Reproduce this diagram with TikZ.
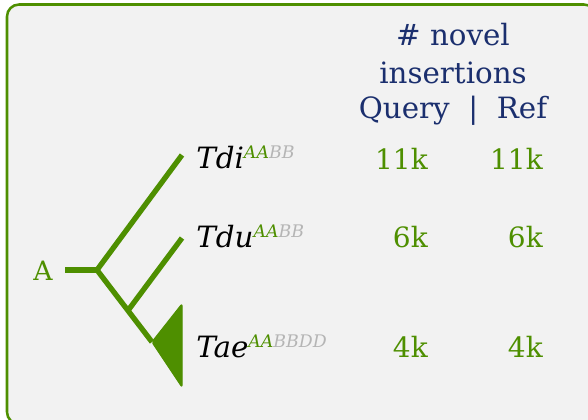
\documentclass[tikz,border=0pt]{standalone}
\usepackage{fontspec}
\setmainfont{DejaVu Serif}
\usepackage{tikz}
\usetikzlibrary{positioning}
\usepackage{xcolor}
\definecolor{treeColor}{HTML}{4E8F00}
\definecolor{headColor}{HTML}{1B2F6E}
\definecolor{subColor}{HTML}{B5B5B5}
\definecolor{panelColor}{HTML}{F2F2F2}
\newcommand{\genome}[3]{\textit{#1}\raisebox{7.5pt}{\fontsize{13}{13}\selectfont\textit{\textcolor{treeColor}{#2}\textcolor{subColor}{#3}}}}

\begin{document}
\begin{tikzpicture}[
    x=0.75pt, y=-0.75pt,
    branch/.style={draw=treeColor, line width=4pt},
    clade/.style={draw=treeColor, fill=treeColor, line width=1pt, line join=round, rounded corners=1.5pt},
    header/.style={anchor=base, text=headColor, font=\fontsize{22}{26}\selectfont, inner sep=0pt},
    taxon/.style={anchor=base west, font=\fontsize{22}{26}\selectfont, inner sep=0pt},
    count/.style={anchor=base east, text=treeColor, font=\fontsize{21}{26}\selectfont, inner sep=0pt},
  ]

  % Panel
  \useasboundingbox (0,0) rectangle (588,419);
  \clip (0,0) rectangle (588,419);
  \draw[draw=treeColor, fill=panelColor, line width=1.9pt, rounded corners=9pt] (7,4.5) rectangle (596,424);

  % Header
  \node[header] (hdr1) at (453,45)  {\# novel};
  \node[header] (hdr2) at (453,83)  {insertions};
  \node[header] (hdr3) at (453,118) {Query\ \ |\ \ Ref};

  % Tree points
  \node[anchor=base west, text=treeColor, font=\fontsize{20}{24}\selectfont, inner sep=0pt] (rootlbl) at (33,280) {A};
  \coordinate (stub) at (65,270);
  \coordinate (root) at (97,270);
  \coordinate (tdiend) at (182,155);
  \coordinate (split) at (128,310.5);
  \coordinate (tduend) at (182,238);
  \coordinate (apex) at (152,342);
  \coordinate (cladetop) at (182,304);
  \coordinate (cladebot) at (182,387);

  % Branches
  \draw[branch] (stub) -- (root);
  \draw[branch] (tdiend) -- (root) -- (apex);
  \draw[branch] (split) -- (tduend);
  \draw[clade] (apex) -- (cladetop) -- (cladebot) -- cycle;

  % Taxa
  \node[taxon] (tdi) at (196,168) {\genome{Tdi}{AA}{BB}};
  \node[taxon] (tdu) at (196,247) {\genome{Tdu}{AA}{BB}};
  \node[taxon] (tae) at (196,357) {\genome{Tae}{AA}{BBDD}};

  % Counts
  \node[count] (qtdi) at (428,169) {11k};
  \node[count] (rtdi) at (543,169) {11k};
  \node[count] (qtdu) at (428,247) {6k};
  \node[count] (rtdu) at (543,247) {6k};
  \node[count] (qtae) at (428,357) {4k};
  \node[count] (rtae) at (543,357) {4k};

\end{tikzpicture}
\end{document}
